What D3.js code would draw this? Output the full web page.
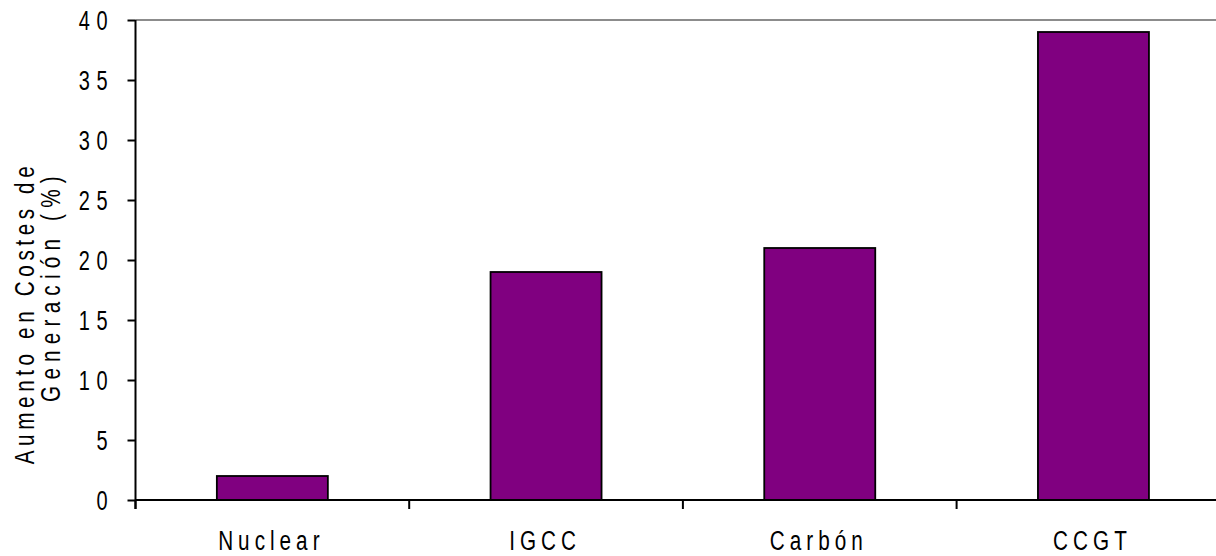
<!DOCTYPE html>
<html>
<head>
<meta charset="utf-8">
<script src="https://cdn.jsdelivr.net/npm/d3@7"></script>
<style>
  html, body { margin: 0; padding: 0; background: #fff; }
  svg { display: block; }
  text { font-family: "Liberation Sans Narrow", "Liberation Sans", Arial, sans-serif; fill: #000; }
</style>
</head>
<body>
<svg id="chart" width="1216" height="556"></svg>
<script>
// Aumento en costes de generación por tecnología (%)
const categories = ["Nuclear", "IGCC", "Carbón", "CCGT"];
const values = [2, 19, 21, 39];
const yTicks = [0, 5, 10, 15, 20, 25, 30, 35, 40];
const yTitleLines = ["Aumento en Costes de", "Generación (%)"];

const svg = d3.select("#chart");
const margin = { left: 135.5, top: 20, bottom: 500 };
const bandStep = 273.7;
const squeeze = 0.74;          // horizontal condensing of the lettering
const font = '"Liberation Sans Narrow", "Liberation Sans", Arial, sans-serif';

const x = d3.scaleBand()
  .domain(categories)
  .range([margin.left, margin.left + bandStep * categories.length])
  .paddingInner(0)
  .paddingOuter(0);

const y = d3.scaleLinear().domain([0, 40]).range([margin.bottom, margin.top]);

const barWidth = 111;

// top frame line
svg.append("line")
  .attr("x1", margin.left).attr("x2", 1216)
  .attr("y1", y(40)).attr("y2", y(40))
  .attr("stroke", "#8c8c8c").attr("stroke-width", 2);

// bars
svg.append("g").selectAll("rect")
  .data(categories.map((c, i) => ({ c, v: values[i] })))
  .join("rect")
  .attr("x", d => x(d.c) + x.bandwidth() / 2 - barWidth / 2)
  .attr("y", d => y(d.v))
  .attr("width", barWidth)
  .attr("height", d => y(0) - y(d.v))
  .attr("fill", "#800080")
  .attr("stroke", "#000")
  .attr("stroke-width", 1.8);

// y axis
const yLs = 6.5;
const yAxis = d3.axisLeft(y).tickValues(yTicks).tickSize(8).tickPadding(0)
  .tickFormat(d => String(d));
const gy = svg.append("g").attr("transform", `translate(${margin.left},0)`).call(yAxis);
gy.select(".domain").attr("stroke", "#000").attr("stroke-width", 2)
  .attr("d", `M0,${y(40)}V${y(0) + 9}`);
gy.selectAll(".tick line").attr("stroke", "#000").attr("stroke-width", 2);
gy.selectAll(".tick text")
  .attr("x", 0)
  .attr("dy", "0.36em")
  .attr("transform", `translate(${-28 + yLs},0) scale(${squeeze},1)`)
  .attr("font-size", 27)
  .attr("letter-spacing", `${yLs / squeeze}px`)
  .style("font-family", font);

// x axis
const xLs = 5;
const xAxis = d3.axisBottom(x).tickSize(0).tickPadding(0);
const gx = svg.append("g").attr("transform", `translate(0,${y(0)})`).call(xAxis);
gx.select(".domain").remove();
gx.append("line")
  .attr("x1", margin.left).attr("x2", 1216)
  .attr("y1", 0).attr("y2", 0)
  .attr("stroke", "#000").attr("stroke-width", 2);
// boundary ticks between categories
gx.selectAll(".bound")
  .data(categories)
  .join("line")
  .attr("class", "bound")
  .attr("x1", d => x(d)).attr("x2", d => x(d))
  .attr("y1", 0).attr("y2", 9)
  .attr("stroke", "#000").attr("stroke-width", 2);
gx.selectAll(".tick text")
  .attr("y", 0)
  .attr("dy", 0)
  .attr("transform", `translate(-1,50) scale(${squeeze},1)`)
  .attr("font-size", 28)
  .attr("letter-spacing", `${xLs / squeeze}px`)
  .style("font-family", font);

// y axis title, two lines rotated
const titleCenters = [313, 286];
const titleBaselines = [34, 60];
const titleLs = [4.6, 6.2];
yTitleLines.forEach((t, i) => {
  svg.append("text")
    .attr("transform", `translate(${titleBaselines[i]},${titleCenters[i]}) rotate(-90) scale(${squeeze},1)`)
    .attr("text-anchor", "middle")
    .attr("font-size", 28)
    .attr("letter-spacing", `${titleLs[i] / squeeze}px`)
    .text(t);
});
</script>
</body>
</html>
